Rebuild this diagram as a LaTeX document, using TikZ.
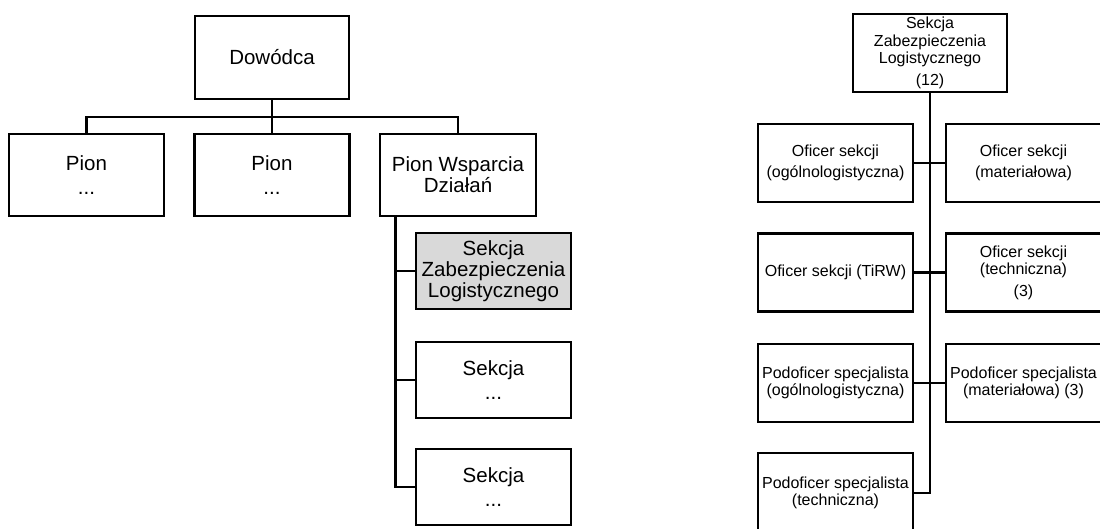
\documentclass[tikz,border=0pt]{standalone}
\usepackage{fontspec}
\setmainfont{Liberation Sans}
\definecolor{sekcjagray}{HTML}{D9D9D9}

\begin{document}
\begin{tikzpicture}[x=1pt,y=1pt,
	box/.style={draw=black,line width=2.7pt,fill=white,align=center,inner sep=0pt},
	bigbox/.style={box,minimum width=155pt,minimum height=82pt,font=\fontsize{20.5}{21}\selectfont},
	smallbox/.style={box,minimum width=155pt,minimum height=78pt,font=\fontsize{16}{17.5}\selectfont},
	link/.style={line width=2.8pt}]
	\clip (0,0) rectangle (1100,-528);
	% lewa strona
	\node[bigbox,minimum width=154pt,minimum height=83pt] (dowodca) at (272,-57.5) {Dowódca};
	\node[bigbox] (pion1) at (86.5,-175) {Pion\\[3pt]...};
	\node[bigbox] (pion2) at (272,-175) {Pion\\[3pt]...};
	\node[bigbox,minimum width=156pt] (pionwd) at (458,-175) {Pion Wsparcia\\Działań};
	\node[bigbox,minimum height=76pt,fill=sekcjagray] (sekzl) at (493.5,-271) {Sekcja\\Zabezpieczenia\\Logistycznego};
	\node[bigbox,minimum height=76pt] (sek2) at (493.5,-380) {Sekcja\\[3pt]...};
	\node[bigbox,minimum height=76pt] (sek3) at (493.5,-487) {Sekcja\\[3pt]...};
	\coordinate (bus) at (272,-117);
	\coordinate (trunk) at ([xshift=17pt]pionwd.south west);
	\draw[link] (dowodca.south) -- (bus);
	\draw[link] (pion1.north) |- (bus) -| (pionwd.north);
	\draw[link] (bus) -- (pion2.north);
	\draw[link] (trunk) |- (sek3.west);
	\draw[link] (sekzl.west) -- (sekzl.west -| trunk);
	\draw[link] (sek2.west) -- (sek2.west -| trunk);
	% prawa strona
	\node[smallbox,minimum width=154pt] (szl) at (930,-53) {Sekcja\\Zabezpieczenia\\Logistycznego\\[4pt](12)};
	\node[smallbox] (ofog) at (835.5,-163) {Oficer sekcji\\[3pt](ogólnologistyczna)};
	\node[smallbox] (ofmat) at (1023.5,-163) {Oficer sekcji\\[3pt](materiałowa)};
	\node[smallbox] (oftirw) at (835.5,-272.5) {Oficer sekcji (TiRW)};
	\node[smallbox] (oftech) at (1023.5,-272.5) {Oficer sekcji\\(techniczna)\\[4pt](3)};
	\node[smallbox] (pdog) at (835.5,-383) {Podoficer specjalista\\(ogólnologistyczna)};
	\node[smallbox] (pdmat) at (1023.5,-383) {Podoficer specjalista\\(materiałowa) (3)};
	\node[smallbox,minimum height=80pt] (pdtech) at (835.5,-493) {Podoficer specjalista\\(techniczna)};
	\draw[link] (szl.south) |- (pdtech.east);
	\draw[link] (ofog.east) -- (ofmat.west);
	\draw[link] (oftirw.east) -- (oftech.west);
	\draw[link] (pdog.east) -- (pdmat.west);
\end{tikzpicture}
\end{document}
